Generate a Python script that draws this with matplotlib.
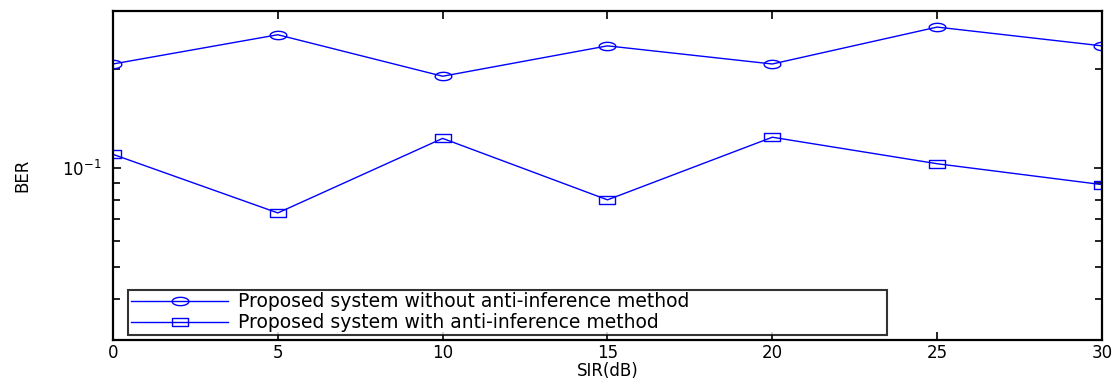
import numpy as np
import matplotlib
matplotlib.use('Agg')
import matplotlib.pyplot as plt
from matplotlib.path import Path
from matplotlib.ticker import LogLocator, NullFormatter, FixedLocator

sir = [0, 5, 10, 15, 20, 25, 30]
ber_without = [0.207, 0.254, 0.190, 0.235, 0.207, 0.268, 0.235]
ber_with = [0.110, 0.073, 0.123, 0.080, 0.124, 0.103, 0.089]
labels = ['Proposed system without anti-inference method',
          'Proposed system with anti-inference method']

# flattened markers, the source picture is stretched sideways
t = np.linspace(0, 2 * np.pi, 60)
ellipse = Path(np.column_stack([np.cos(t), 0.5 * np.sin(t)]))
rect = Path([(-1, -0.55), (1, -0.55), (1, 0.55), (-1, 0.55), (-1, -0.55)],
            [Path.MOVETO, Path.LINETO, Path.LINETO, Path.LINETO, Path.CLOSEPOLY])

plt.rcParams['font.family'] = ['DejaVu Sans']
fig = plt.figure(figsize=(11.12, 3.78), dpi=100)
ax = fig.add_axes([0.1016, 0.1005, 0.8894, 0.8705])

ax.plot(sir, ber_without, color='#0000ff', lw=1, marker=ellipse, ms=12,
        mfc='none', mec='#0000ff', mew=1, label=labels[0])
ax.plot(sir, ber_with, color='#0000ff', lw=1, marker=rect, ms=11,
        mfc='none', mec='#0000ff', mew=1, label=labels[1])

ax.set_yscale('log')
ax.set_xlim(0, 30)
ax.set_ylim(0.03, 0.3)
ax.set_xticks([0, 5, 10, 15, 20, 25, 30])
ax.yaxis.set_major_locator(FixedLocator([0.1]))
ax.yaxis.set_minor_locator(LogLocator(base=10, subs=np.arange(2, 10)))
ax.yaxis.set_minor_formatter(NullFormatter())

ax.tick_params(which='both', direction='in', top=True, right=True,
               labelsize=12, width=1.2)
ax.tick_params(which='major', length=6, pad=3)
ax.tick_params(which='minor', length=5)
ax.tick_params(axis='y', pad=8)
for s in ax.spines.values():
    s.set_linewidth(1.6)

ax.set_xlabel('SIR(dB)', fontsize=12, labelpad=0)
ax.set_ylabel('BER', fontsize=12, labelpad=22)

leg = ax.legend(loc='lower left', bbox_to_anchor=(0.0152, 0.0152, 0.767, 0.125),
                mode='expand', fontsize=13.5,
                handlelength=5.2, borderpad=0.15, labelspacing=0.1,
                handletextpad=0.5, borderaxespad=0, fancybox=False,
                edgecolor='black')
leg.get_frame().set_linewidth(1.5)

fig.savefig('out.png', dpi=100)
